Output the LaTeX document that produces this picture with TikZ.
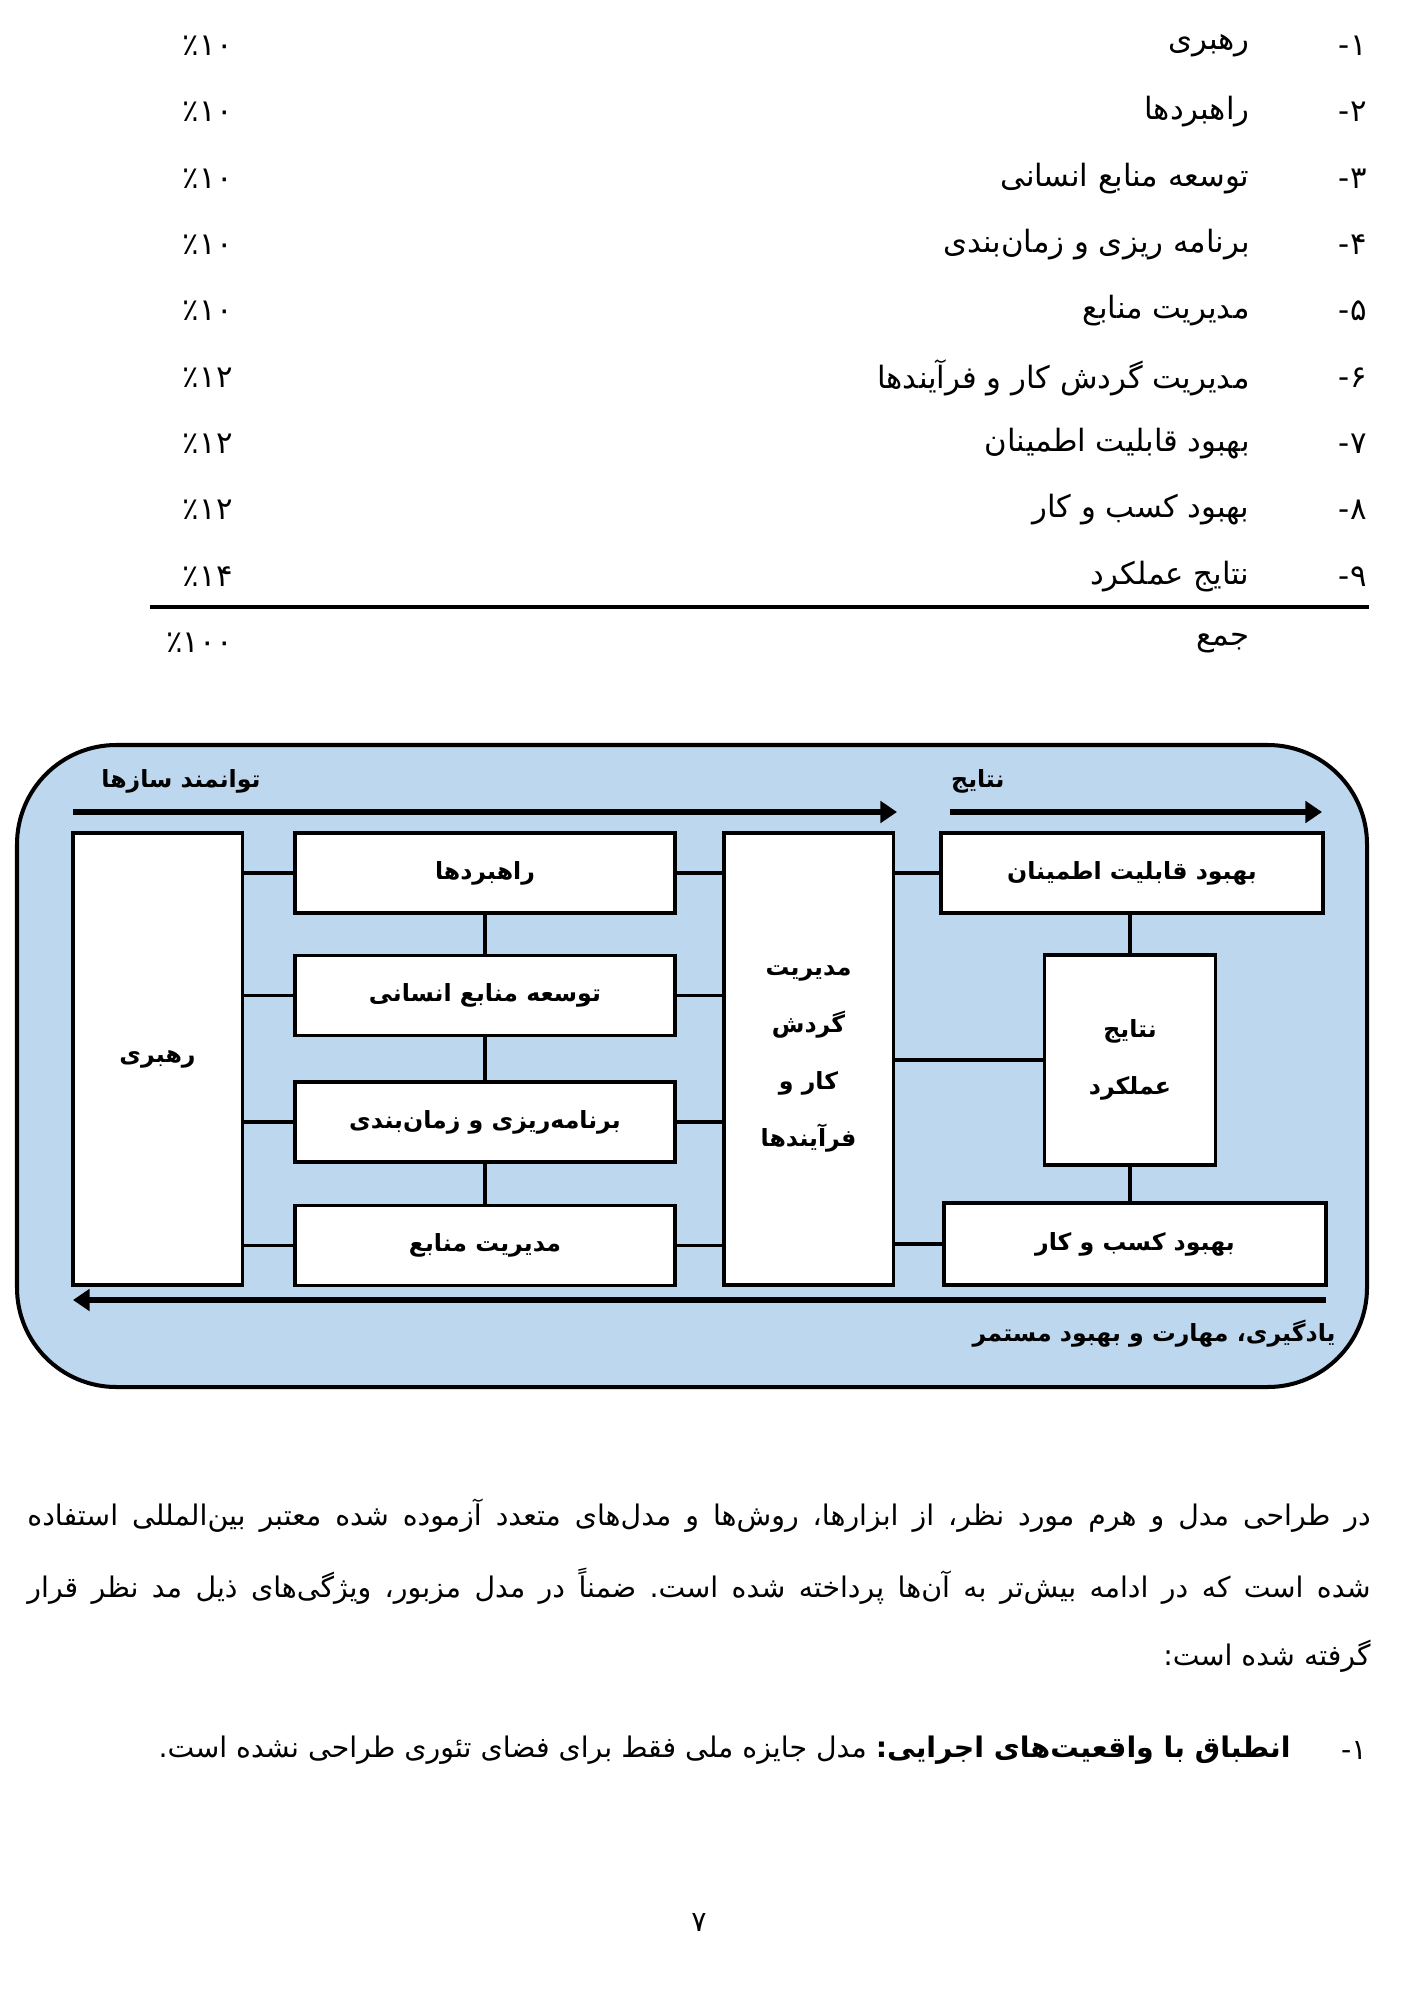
\documentclass[tikz,border=0pt]{standalone}
\usepackage{fontspec}
\usepackage{tikz}
\usetikzlibrary{arrows.meta,positioning}
\TeXXeTstate=1
\frenchspacing
\newfontfamily\fa[Script=Arabic]{DejaVu Sans}
\definecolor{mdlblue}{RGB}{189,215,238}
\newcommand{\fatxt}[1]{\fa\beginR #1\endR}

\begin{document}
\begin{tikzpicture}[
  x=0.4229pt, y=-0.4229pt,
  item/.style={anchor=east, inner sep=0pt, font=\fa\fontsize{13}{15}\selectfont},
  para/.style={anchor=east, inner sep=0pt, font=\fa\fontsize{12}{14}\selectfont},
  blk/.style={draw, fill=white, line width=1.6pt, align=center, inner sep=2pt,
              font=\fa\bfseries\fontsize{10}{24}\selectfont},
  wide/.style={blk, minimum width=160.7pt, minimum height=33.8pt},
  tall/.style={blk, minimum width=71.8pt, minimum height=191.2pt},
  tag/.style={anchor=east, inner sep=0pt, font=\fa\bfseries\fontsize{10}{12}\selectfont},
  conn/.style={line width=1.6pt},
  flow/.style={-{Triangle[length=7pt,width=9pt]}, line width=2.5pt}
]
\useasboundingbox[fill=white] (0,0) rectangle (1407,2000);

% weights table
\node[item] (n1) at (1367,46) {۱-};
\node[item] (r1) at (1250,46) {\fatxt{رهبری}};
\node[item] (p1) at (233,46) {٪۱۰};
\node[item] (n2) at (1367,112) {۲-};
\node[item] (r2) at (1250,112) {\fatxt{راهبردها}};
\node[item] (p2) at (233,112) {٪۱۰};
\node[item] (n3) at (1367,179) {۳-};
\node[item] (r3) at (1250,179) {\fatxt{توسعه منابع انسانی}};
\node[item] (p3) at (233,179) {٪۱۰};
\node[item] (n4) at (1367,245) {۴-};
\node[item] (r4) at (1250,245) {\fatxt{برنامه ریزی و زمان‌بندی}};
\node[item] (p4) at (233,245) {٪۱۰};
\node[item] (n5) at (1367,311) {۵-};
\node[item] (r5) at (1250,311) {\fatxt{مدیریت منابع}};
\node[item] (p5) at (233,311) {٪۱۰};
\node[item] (n6) at (1367,378) {۶-};
\node[item] (r6) at (1250,378) {\fatxt{مدیریت گردش کار و فرآیندها}};
\node[item] (p6) at (233,378) {٪۱۲};
\node[item] (n7) at (1367,444) {۷-};
\node[item] (r7) at (1250,444) {\fatxt{بهبود قابلیت اطمینان}};
\node[item] (p7) at (233,444) {٪۱۲};
\node[item] (n8) at (1367,510) {۸-};
\node[item] (r8) at (1250,510) {\fatxt{بهبود کسب و کار}};
\node[item] (p8) at (233,510) {٪۱۲};
\node[item] (n9) at (1367,577) {۹-};
\node[item] (r9) at (1250,577) {\fatxt{نتایج عملکرد}};
\node[item] (p9) at (233,577) {٪۱۴};
\draw[line width=1.3pt] (150,607) -- (1369,607);
\node[item] (rsum) at (1250,643) {\fatxt{جمع}};
\node[item] (psum) at (233,643) {٪۱۰۰};

% model frame
\draw[line width=1.7pt, fill=mdlblue, rounded corners=42pt] (17,745) rectangle (1367,1387);
\node[tag] (enab) at (261,781) {\fatxt{توانمند سازها}};
\node[tag] (outc) at (1005,781) {\fatxt{نتایج}};
\coordinate (ea) at (73,812);
\coordinate (eb) at (897,812);
\coordinate (oa) at (950,812);
\coordinate (ob) at (1322,812);
\draw[flow] (ea) -- (eb);
\draw[flow] (oa) -- (ob);

\node[tall] (lead) at (157.5,1059) {\fatxt{رهبری}};
\node[wide] (sa) at (485,873) {\fatxt{راهبردها}};
\node[wide] (hr) at (485,995.5) {\fatxt{توسعه منابع انسانی}};
\node[wide] (pl) at (485,1122) {\fatxt{برنامه‌ریزی و زمان‌بندی}};
\node[wide] (rm) at (485,1245.5) {\fatxt{مدیریت منابع}};
\node[tall] (mid) at (808.5,1059)
  {\fatxt{مدیریت}\\\fatxt{گردش}\\\fatxt{کار و}\\\fatxt{فرآیندها}};
\node[wide, minimum width=161.5pt] (rel) at (1132,873) {\fatxt{بهبود قابلیت اطمینان}};
\node[blk, minimum width=72.3pt, minimum height=88.8pt] (res) at (1130,1060)
  {\fatxt{نتایج}\\\fatxt{عملکرد}};
\node[wide, minimum width=161.5pt, minimum height=34.6pt] (biz) at (1135,1244)
  {\fatxt{بهبود کسب و کار}};

\draw[conn] (lead.east |- sa) -- (sa.west);
\draw[conn] (lead.east |- hr) -- (hr.west);
\draw[conn] (lead.east |- pl) -- (pl.west);
\draw[conn] (lead.east |- rm) -- (rm.west);
\draw[conn] (sa.east) -- (mid.west |- sa);
\draw[conn] (hr.east) -- (mid.west |- hr);
\draw[conn] (pl.east) -- (mid.west |- pl);
\draw[conn] (rm.east) -- (mid.west |- rm);
\draw[conn] (sa.south) -- (hr.north);
\draw[conn] (hr.south) -- (pl.north);
\draw[conn] (pl.south) -- (rm.north);
\draw[conn] (mid.east |- rel) -- (rel.west);
\draw[conn] (mid.east |- res) -- (res.west);
\draw[conn] (mid.east |- biz) -- (biz.west);
\draw[conn] (res.north) -- (res.north |- rel.south);
\draw[conn] (res.south) -- (res.south |- biz.north);

\coordinate (la) at (1326,1300);
\coordinate (lb) at (73,1300);
\draw[flow] (la) -- (lb);
\node[tag] (learn) at (1336,1334) {\fatxt{یادگیری، مهارت و بهبود مستمر}};

% body text
\node[para] (t1) at (1371,1516)
  {\hbox to 568pt{\fa\beginR در طراحی مدل و هرم مورد نظر، از ابزارها، روش‌ها و مدل‌های متعدد آزموده شده معتبر بین‌المللی استفاده\endR}};
\node[para] (t2) at (1371,1586)
  {\hbox to 568pt{\fa\beginR شده است که در ادامه بیش‌تر به آن‌ها پرداخته شده است. ضمناً در مدل مزبور، ویژگی‌های ذیل مد نظر قرار\endR}};
\node[para] (t3) at (1371,1656) {\fatxt{گرفته شده است:}};
\node[para] (f1) at (1367,1750) {۱-};
\node[para] (f1t) at (1291,1750)
  {\fatxt{{\bfseries انطباق با واقعیت‌های اجرایی:} مدل جایزه ملی فقط برای فضای تئوری طراحی نشده است.}};
\node[para] (pg) at (707,1922) {۷};
\end{tikzpicture}
\end{document}
